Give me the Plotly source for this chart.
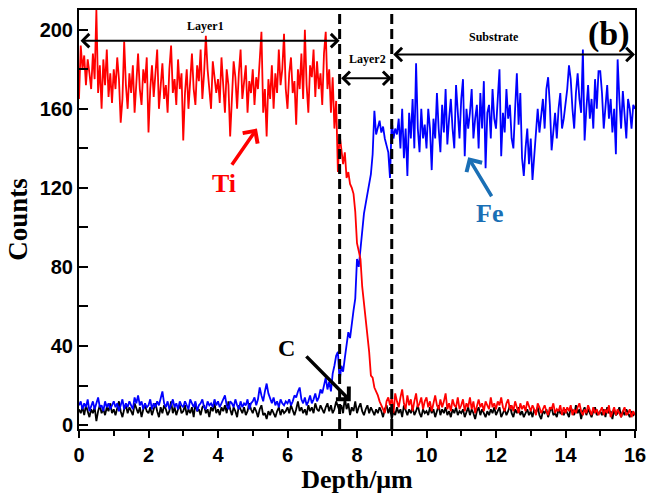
import numpy as np
import plotly.graph_objects as go

depth = [round(i * 0.05, 2) for i in range(321)]

ti = [
    165,192,180,187,172,185,178,170,188,175,210,168,182,160,185,172,190,166,178,163,
    180,170,186,175,153,165,194,172,160,178,168,182,158,175,188,170,162,180,173,186,
    148,170,182,166,176,190,160,174,183,165,172,158,180,192,168,175,162,185,170,178,
    144,168,180,160,176,188,170,162,182,174,190,165,178,197,180,170,160,184,176,168,
    175,163,186,170,158,180,172,146,168,184,176,160,178,190,165,172,182,158,174,168,
    180,162,176,170,188,199,158,170,146,175,165,182,160,178,168,190,172,180,198,170,
    160,178,186,168,174,152,180,170,188,165,200,172,158,182,176,190,166,184,170,178,
    162,188,199,170,180,158,176,150,164,128,
    147,140,132,138,125,128,122,120,117,108,
    92,88,84,70,62,55,47,37,25,24,
    19,17,15,12,10,8,6,12,14,10,
    14,6,16,12,9,14,18,11,8,15,10,13,7,12,16,9,11,14,8,12,
    14,9,12,7,11,15,10,8,13,9,12,16,8,11,7,13,10,9,14,8,
    10,13,7,11,9,14,8,12,6,10,13,9,11,7,12,10,8,14,9,11,
    8,12,10,14,9,7,11,13,8,10,7,12,9,6,11,8,10,7,12,9,
    7,10,8,5,11,9,6,8,10,7,5,9,8,11,6,8,7,10,5,9,
    6,9,7,10,5,8,6,9,11,7,5,8,6,10,7,5,9,6,8,5,
    7,9,5,8,6,10,4,7,9,5,8,6,4,7,9,5,6,8,4,7,5,
]

fe = [
    10,12,8,11,9,13,7,10,12,8,11,14,9,10,7,12,9,11,8,10,
    12,9,11,7,10,13,8,11,9,12,10,8,14,11,15,10,12,8,11,9,
    10,13,8,11,9,12,10,14,17,11,9,12,8,10,13,9,11,8,12,10,
    9,12,10,8,13,11,9,12,7,10,11,13,9,8,12,10,11,9,13,10,
    12,9,11,13,15,10,8,12,11,9,13,10,8,12,9,11,10,13,8,11,
    12,14,10,13,19,15,12,17,21,16,13,11,14,10,12,9,13,11,10,12,
    11,13,10,12,15,14,17,19,13,11,14,10,12,15,11,13,16,12,14,18,
    16,20,24,18,22,17,26,30,35,37,
    22,30,27,34,40,47,44,52,58,64,
    84,80,90,97,107,112,117,124,127,137,
    159,147,150,154,148,151,145,142,138,125,
    154,145,150,147,155,140,160,135,150,126,158,145,165,140,183,150,138,160,145,152,
    140,160,150,129,155,145,168,150,138,162,148,170,142,155,165,150,140,172,158,145,
    165,175,136,160,150,158,170,145,155,162,140,168,150,174,130,158,162,145,170,155,
    150,165,180,136,158,148,170,155,162,145,140,160,178,152,168,135,126,140,150,132,
    145,124,138,150,160,148,155,165,150,170,176,162,139,150,158,145,160,168,150,155,
    162,170,182,175,160,150,168,178,165,158,190,144,160,172,155,165,150,175,160,179,
    179,168,150,160,172,155,165,148,160,137,185,165,150,169,155,145,165,160,150,162,160,
]

c = [
    8,6,9,5,10,7,4,8,6,9,2,7,10,6,8,5,9,7,11,6,
    8,5,9,12,7,4,8,10,6,9,7,5,11,8,6,9,4,8,10,7,
    6,9,5,8,11,7,4,9,6,10,8,5,7,12,6,9,5,8,10,6,
    7,10,5,8,6,9,4,11,7,8,5,9,10,6,8,4,9,7,11,6,
    8,5,9,7,10,6,12,8,5,9,7,4,10,8,6,9,5,7,11,8,
    6,9,7,4,8,10,5,6,3,7,5,8,6,4,7,9,5,8,6,7,
    9,6,10,7,5,8,12,7,9,6,8,5,10,7,9,6,11,8,7,10,
    8,6,9,11,7,10,6,8,12,9,
    7,10,6,14,8,11,5,9,7,12,
    6,9,11,7,5,8,10,6,9,7,
    5,8,6,9,7,4,8,10,6,9,
    3,7,5,9,6,8,4,10,7,5,8,6,9,5,7,10,6,4,8,6,
    7,5,9,6,8,4,7,10,5,8,6,9,5,7,4,8,6,9,5,7,
    6,8,4,7,9,5,8,6,3,7,9,5,8,6,4,7,5,8,6,9,
    5,7,9,4,6,8,5,7,10,6,4,8,6,9,5,7,4,6,8,5,
    7,4,8,6,9,5,3,7,6,8,4,7,9,5,6,4,8,6,7,5,
    8,6,4,9,7,5,10,6,8,3,7,9,5,8,6,4,7,9,5,6,
    7,5,8,4,9,6,7,3,8,5,6,9,4,7,5,8,6,4,7,5,6,
]

boundaries = [7.5, 9.0]
x_ticks = [0, 2, 4, 6, 8, 10, 12, 14, 16]
y_ticks = [0, 40, 80, 120, 160, 200]

serif = "Liberation Serif"
sans = "Liberation Sans"

fig = go.Figure()
fig.add_trace(go.Scatter(x=depth, y=c, mode="lines", line=dict(color="#000000", width=1.8), name="C"))
fig.add_trace(go.Scatter(x=depth, y=fe, mode="lines", line=dict(color="#0000ff", width=1.8), name="Fe"))
fig.add_trace(go.Scatter(x=depth, y=ti, mode="lines", line=dict(color="#ff0000", width=1.8), name="Ti"))

for b in boundaries:
    fig.add_shape(type="line", x0=b, x1=b, y0=0, y1=1, xref="x", yref="paper",
                  line=dict(color="black", width=3, dash="10px,5px"))

def span_arrow(x0, x1, y, label, ly, lx):
    fig.add_annotation(x=x1, y=y, ax=x0, ay=y, xref="x", yref="y", axref="x", ayref="y",
                       text="", showarrow=True, arrowhead=4, startarrowhead=4,
                       arrowside="end+start", arrowwidth=2, arrowsize=1.3,
                       startarrowsize=1.3, arrowcolor="black", standoff=0, startstandoff=0)
    fig.add_annotation(x=lx, y=ly, xref="x", yref="y", text="<b>%s</b>" % label,
                       showarrow=False, font=dict(family=serif, size=12, color="black"))

span_arrow(0, 7.5, 194.5, "Layer1", 202, 3.65)
span_arrow(7.5, 9.0, 175.5, "Layer2", 185, 8.3)
span_arrow(9.0, 16, 187.5, "Substrate", 196.5, 11.95)

def pointer(hx, hy, tx, ty, color):
    fig.add_annotation(x=hx, y=hy, ax=tx, ay=ty, xref="x", yref="y", axref="x", ayref="y",
                       text="", showarrow=True, arrowhead=4, arrowwidth=3.5, arrowsize=1.0,
                       arrowcolor=color, standoff=0)

pointer(5.12, 150, 4.37, 131, "#ff0000")
fig.add_annotation(x=4.17, y=122, xref="x", yref="y", text="<b>Ti</b>", showarrow=False,
                   font=dict(family=serif, size=26, color="#ff0000"))
pointer(11.2, 135.5, 11.9, 115, "#1a6fb5")
fig.add_annotation(x=11.8, y=107, xref="x", yref="y", text="<b>Fe</b>", showarrow=False,
                   font=dict(family=serif, size=26, color="#1a6fb5"))
pointer(7.82, 12, 6.5, 35.5, "#000000")
fig.add_annotation(x=5.97, y=39, xref="x", yref="y", text="<b>C</b>", showarrow=False,
                   font=dict(family=serif, size=24, color="#000000"))
fig.add_annotation(x=15.25, y=198, xref="x", yref="y", text="<b>(b)</b>", showarrow=False,
                   font=dict(family=serif, size=34, color="#000000"))

fig.update_layout(
    width=654, height=494,
    margin=dict(l=79, r=13, t=8, b=62),
    paper_bgcolor="white", plot_bgcolor="white",
    showlegend=False,
)
fig.update_xaxes(
    range=[0, 16], tickvals=x_ticks, ticktext=[str(v) for v in x_ticks],
    ticks="outside", ticklen=7, tickwidth=2, tickcolor="black",
    minor=dict(dtick=1, ticks="outside", ticklen=5, tickwidth=1.5, tickcolor="black"),
    showline=True, linewidth=2, linecolor="black", mirror=True,
    showgrid=False, zeroline=False,
    tickfont=dict(family=sans, size=20, color="black", weight="bold"),
    title=dict(text="<b>Depth/μm</b>", font=dict(family=serif, size=26, color="black"), standoff=2),
)
fig.update_yaxes(
    range=[-2, 210], tickvals=y_ticks, ticktext=[str(v) for v in y_ticks],
    ticks="inside", ticklen=9, tickwidth=2, tickcolor="black",
    minor=dict(dtick=20, tick0=0, ticks="inside", ticklen=9, tickwidth=1.5, tickcolor="black"),
    showline=True, linewidth=2, linecolor="black", mirror=True,
    showgrid=False, zeroline=False,
    tickfont=dict(family=sans, size=20, color="black", weight="bold"),
    title=dict(text="<b>Counts</b>", font=dict(family=serif, size=27, color="black"), standoff=4),
)

fig.write_html("out.html")
